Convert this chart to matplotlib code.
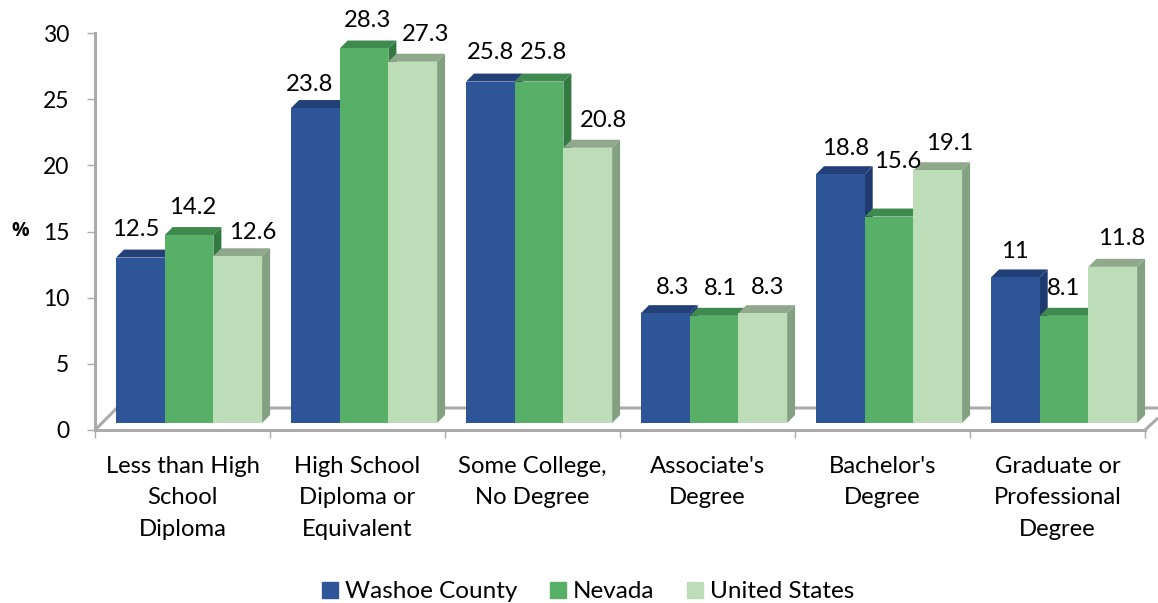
import matplotlib
matplotlib.use('Agg')
import matplotlib.pyplot as plt
from matplotlib.patches import Patch
import numpy as np

plt.rcParams['font.family'] = ['Lato', 'DejaVu Sans']

categories = ["Less than High\nSchool\nDiploma", "High School\nDiploma or\nEquivalent",
              "Some College,\nNo Degree", "Associate's\nDegree", "Bachelor's\nDegree",
              "Graduate or\nProfessional\nDegree"]
series_names = ["Washoe County", "Nevada", "United States"]
washoe = [12.5, 23.8, 25.8, 8.3, 18.8, 11]
nevada = [14.2, 28.3, 25.8, 8.1, 15.6, 8.1]
usa = [12.6, 27.3, 20.8, 8.3, 19.1, 11.8]
series = [washoe, nevada, usa]

front_colors = ['#2E5597', '#57AF68', '#BDDDB9']
top_colors = ['#223F78', '#3F8A4E', '#90A98D']
side_colors = ['#1F3B6E', '#327A42', '#84A083']

# hand nudges for the value labels, in pixels from the bar centre
label_dx = [[-5, 4, 15], [-6, 4, 13], [0, 4, 16], [7, 7, 5], [5, 9, 12], [0, 0, 9]]
label_dy = [[28, 28, 24], [24, 28, 27], [29, 29, 27], [26, 27, 26], [26, 55, 27], [26, 27, 28]]

W, H = 1158, 603
fig = plt.figure(figsize=(W / 100, H / 100), dpi=100)
ax = fig.add_axes([95 / W, 1 - 430 / H, 1050 / W, 397 / H])
ax.set_xlim(0, 6)
ax.set_ylim(0, 30)

# sizes of the fake 3d look, in data units
px_x = 6 / 1050
px_y = 30 / 397
base = 7 * px_y
depth_x = 8 * px_x
depth_y = 8 * px_y
bar_w = 48.7 * px_x
start = 21 * px_x

# floor
grey = '#ABABAB'
fx = 22 * px_x
fy = 22 * px_y
ax.plot([0, fx, 6 + 13 * px_x], [0, fy, fy], color=grey, lw=2.2, clip_on=False, zorder=1,
        solid_capstyle='butt')
ax.plot([6, 6 + 13 * px_x], [0, 12 * px_y], color=grey, lw=2.2, clip_on=False, zorder=1,
        solid_capstyle='butt')

for s, vals in enumerate(series):
    for i, v in enumerate(vals):
        x0 = i + start + s * bar_w
        x1 = x0 + bar_w
        top = base + v
        z = 2 + s
        ax.fill([x0, x0 + depth_x, x1 + depth_x, x1], [top, top + depth_y, top + depth_y, top],
                color=top_colors[s], lw=0, zorder=z, clip_on=False)
        ax.fill([x1, x1 + depth_x, x1 + depth_x, x1],
                [base, base + depth_y, top + depth_y, top],
                color=side_colors[s], lw=0, zorder=z, clip_on=False)
        ax.bar(x0, v, width=bar_w, bottom=base, align='edge', color=front_colors[s],
               linewidth=0, zorder=z + 0.5, clip_on=False)
        ax.annotate(f'{v:g}', (x0 + bar_w / 2, top),
                    xytext=(label_dx[i][s], label_dy[i][s]), textcoords='offset pixels',
                    ha='center', va='center', fontsize=17.2, color='black', zorder=10,
                    annotation_clip=False)

ax.set_xticks(np.arange(7))
ax.set_xticklabels([])
ax.set_xticks(np.arange(6) + 0.5, categories, minor=True)
ax.tick_params(axis='x', which='major', length=5.5, width=1, color=grey)
ax.tick_params(axis='x', which='minor', length=0, pad=18.5, labelsize=17.2)
for lab in ax.get_xticklabels(minor=True):
    lab.set_linespacing(1.63)
ax.set_yticks(range(0, 31, 5))
ax.tick_params(axis='y', length=5.5, width=1, color=grey, pad=13, labelsize=16.5)

for side in ['top', 'right']:
    ax.spines[side].set_visible(False)
for side in ['left', 'bottom']:
    ax.spines[side].set_color(grey)
    ax.spines[side].set_linewidth(2.2)
    ax.spines[side].set_zorder(1.5)

ax.set_ylabel('%', rotation=0, fontweight='bold', fontsize=14, family='Open Sans')
ax.yaxis.set_label_coords(-75 / 1050, (430 - 231) / 397)
ax.yaxis.label.set_verticalalignment('center')

handles = [Patch(color=c) for c in front_colors]
fig.legend(handles, series_names, ncol=3, loc='center', bbox_to_anchor=(588 / W, 1 - 592 / H),
           frameon=False, fontsize=17.5, handlelength=0.66, handleheight=0.62,
           handletextpad=0.27, columnspacing=1.35, borderpad=0, borderaxespad=0)

fig.savefig('out.png', dpi=100)
